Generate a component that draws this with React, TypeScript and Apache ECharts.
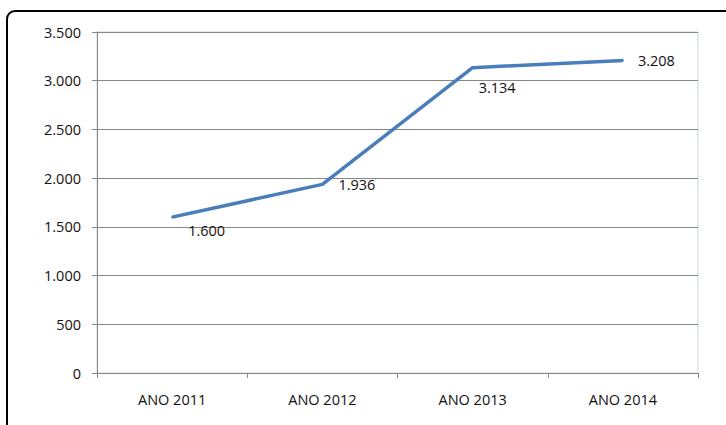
import React, { useEffect, useRef } from "react";
import * as echarts from "echarts";

const categories = ["ANO 2011", "ANO 2012", "ANO 2013", "ANO 2014"];
const values = [1600, 1936, 3134, 3208];
const labelOffsets: [number, number][] = [[15, 13], [15, 0], [5, 20], [14, 0]];

const fmt = (v: number) => v.toLocaleString("de-DE");

export default function App() {
  const ref = useRef<HTMLDivElement>(null);
  useEffect(() => {
    if (!ref.current) return;
    const chart = echarts.init(ref.current, undefined, { renderer: "svg" });
    const font = "'Open Sans', 'Liberation Sans', sans-serif";
    const fs = 14.5;
    chart.setOption({
      animation: false,
      backgroundColor: "#ffffff",
      grid: {
        left: 97,
        top: 32,
        right: 28,
        bottom: 52,
        show: true,
        borderColor: "#c6d6ea",
        borderWidth: 1,
      },
      xAxis: {
        type: "category",
        data: categories,
        boundaryGap: true,
        axisLine: { lineStyle: { color: "#868686", width: 1 } },
        axisTick: { show: true, length: 5, lineStyle: { color: "#868686" } },
        axisLabel: { color: "#111", fontSize: fs, fontFamily: font, margin: 19 },
      },
      yAxis: {
        type: "value",
        min: 0,
        max: 3500,
        interval: 500,
        axisLine: { show: true, lineStyle: { color: "#868686", width: 1 } },
        axisTick: { show: true, length: 5, lineStyle: { color: "#868686" } },
        splitLine: { lineStyle: { color: "#868686", width: 1 } },
        axisLabel: {
          color: "#111",
          fontSize: fs,
          fontFamily: font,
          margin: 16,
          formatter: (v: number) => fmt(v),
        },
      },
      series: [
        {
          type: "line",
          data: values.map((v, i) => ({
            value: v,
            label: {
              show: true,
              position: "right",
              distance: 0,
              offset: labelOffsets[i],
              align: "left",
              verticalAlign: "middle",
              color: "#111",
              fontSize: fs,
              fontFamily: font,
            },
          })),
          label: {
            show: true,
            formatter: (p: any) => fmt(p.value),
          },
          showSymbol: true,
          symbol: "circle",
          symbolSize: 2,
          itemStyle: { color: "#4a7ebb" },
          lineStyle: { color: "#4a7ebb", width: 3.5 },
        },
      ],
      graphic: [
        {
          type: "rect",
          shape: { x: 7, y: 11, width: 740, height: 440, r: 8 },
          style: { fill: "none", stroke: "#000", lineWidth: 2 },
          silent: true,
        },
      ],
    });
    return () => chart.dispose();
  }, []);
  return (
    <div
      ref={ref}
      style={{ position: "fixed", left: 0, top: 0, width: 726, height: 425 }}
    />
  );
}
